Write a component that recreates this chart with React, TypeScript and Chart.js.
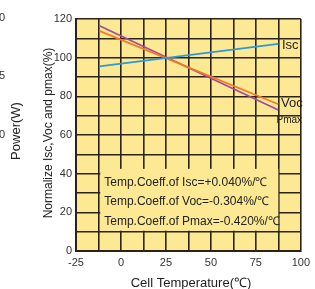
import React, { useEffect, useRef } from "react";
import { Chart, registerables } from "chart.js";
Chart.register(...registerables);

const temps = [-12, 87.5];
const isc = [95.5, 107.1];
const voc = [113.9, 75.9];
const pmax = [116.5, 72.9];
const coeffLines = [
  "Temp.Coeff.of Isc=+0.040%/℃",
  "Temp.Coeff.of Voc=-0.304%/℃",
  "Temp.Coeff.of Pmax=-0.420%/℃",
];
const xTickLabels = [-25, 0, 25, 50, 75, 100];

const BG = "#fde993";
const GRID = "#2b2416";
const FONT = "'Liberation Sans', Arial, sans-serif";

export default function App() {
  const ref = useRef<HTMLCanvasElement>(null);
  useEffect(() => {
    document.body.style.margin = "0";
    const ctx = ref.current!.getContext("2d")!;
    const pts = (ys: number[]) => temps.map((t, i) => ({ x: t, y: ys[i] }));
    const decor = {
      id: "decor",
      beforeDraw(chart: any) {
        const { ctx, chartArea: a } = chart;
        ctx.save();
        ctx.fillStyle = BG;
        ctx.fillRect(a.left, a.top, a.right - a.left, a.bottom - a.top);
        ctx.restore();
      },
      afterDatasetsDraw(chart: any) {
        const { ctx, scales } = chart;
        const xs = scales.x, ys = scales.y;
        ctx.save();
        // textbox
        const bx0 = xs.getPixelForValue(-11.5), bx1 = xs.getPixelForValue(87.5);
        const by0 = ys.getPixelForValue(42.5), by1 = ys.getPixelForValue(10.5);
        ctx.fillStyle = BG;
        ctx.fillRect(bx0, by0, bx1 - bx0, by1 - by0);
        ctx.fillStyle = "#222";
        ctx.font = `12px ${FONT}`;
        ctx.textBaseline = "middle";
        ctx.textAlign = "left";
        const ly = [35.5, 25.5, 15];
        coeffLines.forEach((s, i) => ctx.fillText(s, bx0 + 4, ys.getPixelForValue(ly[i])));
        // series labels
        ctx.font = `13px ${FONT}`;
        ctx.fillText("Isc", xs.getPixelForValue(89.5), ys.getPixelForValue(106.5));
        ctx.fillText("Voc", xs.getPixelForValue(89), ys.getPixelForValue(76.5));
        ctx.font = `10px ${FONT}`;
        ctx.fillText("Pmax", xs.getPixelForValue(86.5), ys.getPixelForValue(67.5));
        // axis titles
        ctx.fillStyle = "#222";
        ctx.font = `13px ${FONT}`;
        ctx.textAlign = "center";
        ctx.fillText("Cell Temperature(℃)", 191, 283);
        ctx.save();
        ctx.translate(49, 133);
        ctx.rotate(-Math.PI / 2);
        ctx.font = `12px ${FONT}`;
        ctx.fillText("Normalize Isc,Voc and pmax(%)", 0, 0);
        ctx.restore();
        ctx.save();
        ctx.translate(16, 131);
        ctx.rotate(-Math.PI / 2);
        ctx.fillText("Power(W)", 0, 0);
        ctx.restore();
        ctx.font = `11px ${FONT}`;
        ctx.fillStyle = "#333";
        ctx.textAlign = "right";
        ctx.fillText("0", 5, 18);
        ctx.fillText("5", 5, 76);
        ctx.fillText("0", 5, 135);
        ctx.restore();
      },
    };
    const chart = new Chart(ctx, {
      type: "scatter",
      data: {
        datasets: [
          { data: pts(isc), showLine: true, borderColor: "#2d9ad6", borderWidth: 1.8, pointRadius: 0 },
          { data: pts(voc), showLine: true, borderColor: "#ef7d22", borderWidth: 1.8, pointRadius: 0 },
          { data: pts(pmax), showLine: true, borderColor: "#a54a9e", borderWidth: 1.8, pointRadius: 0 },
        ],
      },
      options: {
        responsive: false,
        animation: false,
        layout: { padding: { top: 19, right: 9, left: 0, bottom: 0 } },
        plugins: { legend: { display: false }, tooltip: { enabled: false } },
        scales: {
          x: {
            type: "linear",
            min: -25,
            max: 100,
            afterFit: (s: any) => { s.height = 38; },
            afterBuildTicks: (s: any) => {
              const t = [];
              for (let v = -25; v <= 100; v += 12.5) t.push({ value: v });
              s.ticks = t;
            },
            ticks: {
              autoSkip: false,
              maxRotation: 0,
              color: "#333",
              font: { family: FONT, size: 11 },
              padding: 5,
              callback: (v: any) => (xTickLabels.includes(Number(v)) ? String(v) : ""),
            },
            grid: { color: GRID, lineWidth: 1.6, drawTicks: false },
            border: { color: GRID, width: 2 },
          },
          y: {
            min: 0,
            max: 120,
            afterFit: (s: any) => { s.width = 76; },
            afterBuildTicks: (s: any) => {
              const t = [];
              for (let v = 0; v <= 120; v += 10) t.push({ value: v });
              s.ticks = t;
            },
            ticks: {
              autoSkip: false,
              color: "#333",
              font: { family: FONT, size: 11 },
              padding: 4,
              callback: (v: any) => (Number(v) % 20 === 0 ? String(v) : ""),
            },
            grid: { color: GRID, lineWidth: 1.6, drawTicks: false },
            border: { color: GRID, width: 2 },
          },
        },
      },
      plugins: [decor],
    });
    return () => chart.destroy();
  }, []);
  return <canvas ref={ref} width={315} height={289} style={{ display: "block" }} />;
}
